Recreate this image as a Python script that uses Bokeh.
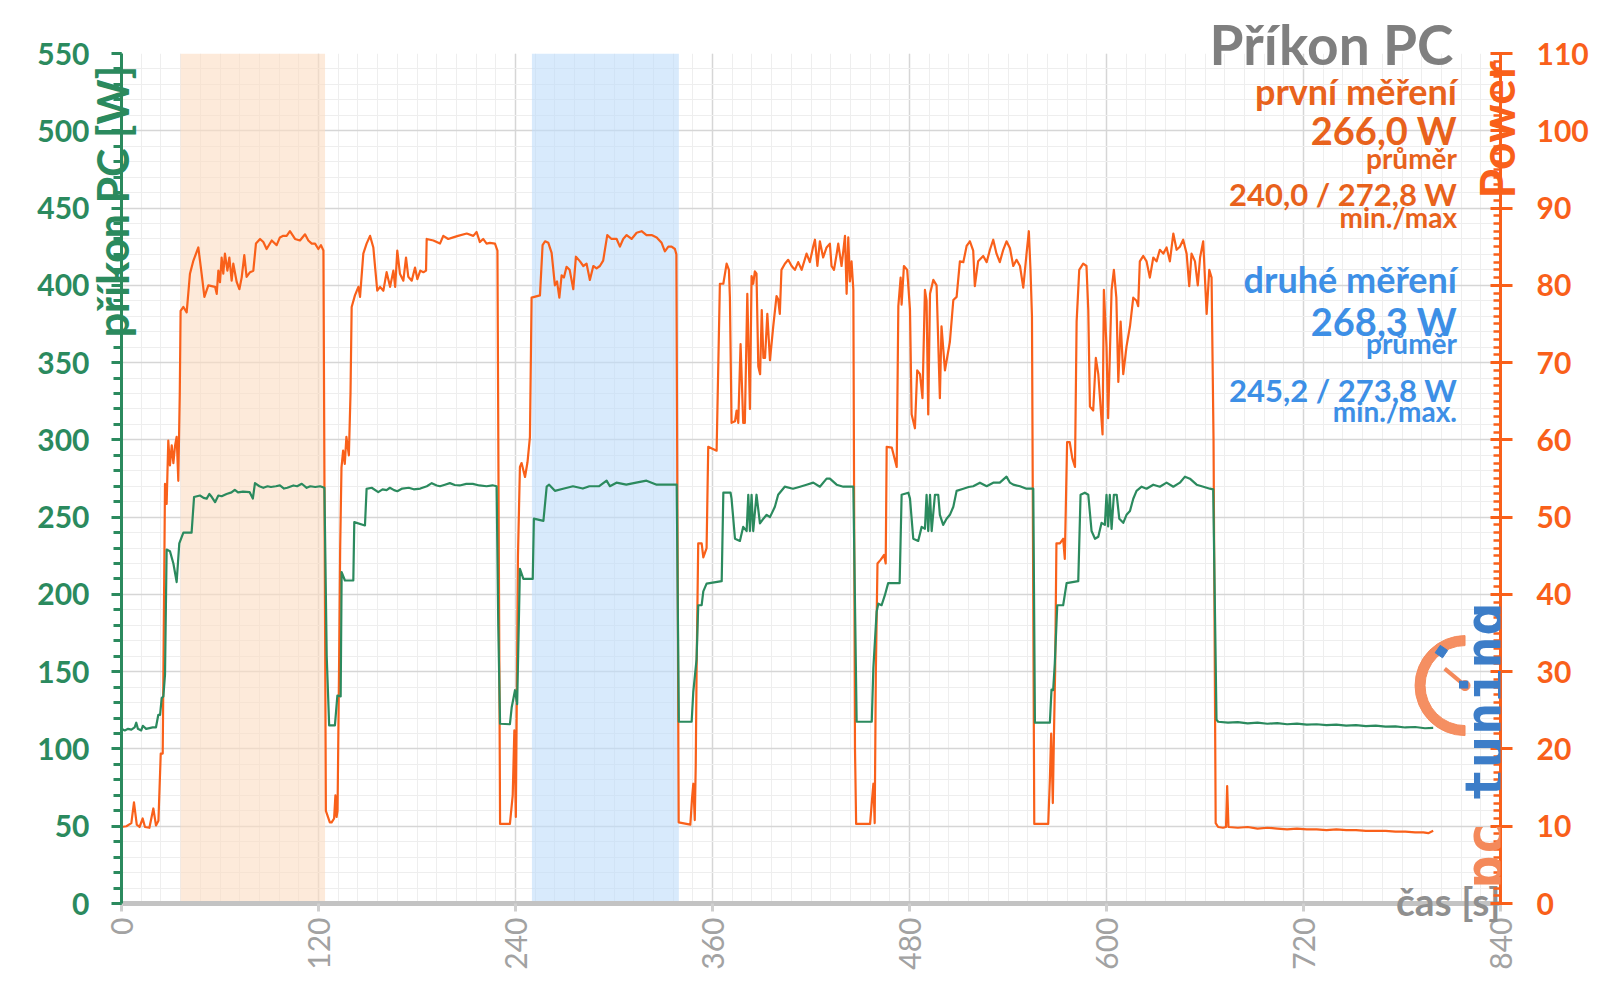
import math
from bokeh.plotting import figure
from bokeh.models import Range1d, LinearAxis, FixedTicker, BoxAnnotation, Label
from bokeh.embed import file_html
from bokeh.resources import INLINE

# ---------------- data ----------------
X_TICKS = [0, 120, 240, 360, 480, 600, 720, 840]
Y_LEFT_TICKS = list(range(0, 551, 50))
Y_RIGHT_TICKS = list(range(0, 111, 10))

BAND_FIRST = (36, 124)     # první měření
BAND_SECOND = (250, 339.5)  # druhé měření

# (time [s], příkon PC [W])
GREEN_PTS = [
    (0, 113), (2, 112), (4, 113), (6, 112.5), (8, 114), (9, 117), (10, 113), (12, 112), (13, 115),
    (15, 113), (17, 113.5), (19, 114), (21, 114), (22.4, 122), (23.5, 122), (24.5, 133), (25.5, 134),
    (26.5, 148), (27.5, 229), (29.5, 228), (31.6, 220), (33.6, 208), (35.2, 233), (37.7, 240),
    (42.7, 240), (44.2, 263), (47.8, 264), (50, 262.5), (51.9, 262), (53.5, 265), (55, 263),
    (57, 259.7), (59, 264), (61, 263.5), (64, 265), (67, 266), (69, 267.7), (71, 266), (74, 266.5),
    (78, 266.2), (80, 262), (81.3, 272), (84, 270), (86.4, 269), (89, 270), (91, 269.5), (94, 270),
    (96.5, 270.5), (99, 268.5), (101, 269), (104.7, 270.5), (107, 270), (109.8, 271.6), (112.8, 269),
    (115, 270), (118, 269.5), (121, 270), (123.6, 269),
    (125, 160), (126.5, 115.2), (130, 115.2), (131.5, 134.6), (133.5, 134), (134.1, 214.4),
    (136.1, 209), (141.2, 209), (141.8, 246.8), (148.3, 244.6), (149.3, 268.3), (152.4, 269),
    (156.4, 266.2), (159, 268), (161.5, 267.5), (163.5, 269), (166, 267.5), (168, 266.8),
    (171, 268.5), (175, 269), (178, 268), (182, 268.5), (186, 270), (189, 272), (192, 270.5),
    (194, 270), (197, 271), (200, 272), (203, 270.8), (206, 270.5), (210, 271.5), (214, 271.5),
    (218, 270.5), (222.4, 270), (226, 270.6), (228.5, 270),
    (229.5, 180), (230.6, 116.3), (236.6, 116), (237.7, 127), (239.7, 138), (241, 129),
    (242.7, 216.6), (244.8, 210), (250.5, 210), (251.2, 249), (257, 247.6), (259, 269.7),
    (260.5, 271), (264, 267), (269, 268.4), (275, 270), (281, 268.5), (285, 270), (291, 270),
    (295.5, 273.6), (297.5, 270), (301.5, 272.3), (307.5, 271), (313.5, 272.3), (319.8, 273.6),
    (326, 271), (334, 271), (338.2, 271),
    (339.5, 117.6), (347.3, 117.6), (348.3, 137), (350.3, 158), (351.3, 193), (353.4, 193),
    (354.4, 202), (356.4, 207), (365.6, 208.6), (366.6, 265.8), (371, 265.8), (371.6, 262),
    (373.7, 236), (376.7, 234.6), (378.7, 243.7), (380.8, 241), (381.8, 264.5), (382.8, 241),
    (383.8, 264.5), (384.8, 241), (386.8, 264.5), (388.9, 246), (391, 249), (393, 251.5),
    (395, 250), (398, 256.7), (400, 264.5), (404, 269.7), (409, 268.4), (413.3, 269.7),
    (417.3, 271), (421.4, 272.3), (425.4, 269.7), (429.5, 274.9), (431.5, 274.9), (435.6, 271),
    (439.7, 269.7), (445.8, 269.7),
    (447.8, 117.6), (457, 117.6), (458, 152.7), (460, 189), (461, 194), (463, 193), (465, 199.5),
    (467, 207.3), (474, 207.3), (475.2, 264.5), (479.3, 265.8), (480.3, 262), (482.3, 236),
    (485.3, 234.6), (487.4, 243.7), (489.4, 242.5), (490.4, 264.5), (491.4, 241), (492.5, 264.5),
    (493.5, 241), (495.5, 264.5), (497.5, 264.5), (498.5, 251.5), (500.5, 245), (502.6, 249),
    (504.6, 251.5), (506.7, 256.7), (508.7, 267), (512.8, 268.4), (516, 269.5), (518.8, 270),
    (522.9, 272.3), (527, 270), (531, 272.3), (535, 272.3), (539.1, 276.2), (541.2, 272.3),
    (543.2, 271), (547.3, 270), (551.3, 268.4), (555.4, 268.4),
    (556.4, 117), (565.5, 117), (566.5, 138.4), (567.5, 138), (568.5, 155.3), (570, 193),
    (573.6, 193), (575.7, 207.3), (582.8, 208.6), (584.2, 264.5), (586.8, 265.8), (588.9, 264.5),
    (590.9, 241), (593, 236), (595, 237.3), (597, 246.3), (599, 245), (600, 264.5), (601, 244),
    (602, 264.5), (603.1, 242.4), (604.5, 264.5), (606.2, 264.5), (607.8, 248.9), (610.2, 246.3),
    (612.2, 251.5), (614.3, 254), (616.3, 261.9), (618.3, 267), (621.4, 269.7), (624.4, 268.4),
    (628.5, 271), (632.5, 269.7), (636.6, 272.3), (640.7, 269.7), (644.7, 272.3), (647.8, 276.2),
    (650.8, 274.9), (654.9, 271), (659, 269.7), (663, 268.4), (665, 268),
    (667, 119), (668, 117.6), (674, 117.0), (680, 117.4), (686, 116.6), (692, 117.0), (698, 116.3),
    (704, 116.7), (710, 116.0), (716, 116.4), (722, 115.7), (728, 116.0), (734, 115.4),
    (740, 115.8), (746, 115.1), (752, 115.4), (758, 114.8), (764, 115.1), (770, 114.4),
    (776, 114.6), (782, 113.9), (788, 114.2), (794, 113.4), (799, 113.6),
]

# (time [s], Power on the right axis)
ORANGE_PTS = [
    (0, 9.9), (3, 10.0), (6, 10.4), (7.6, 13.1), (9.3, 10.2), (11, 9.9), (12.9, 11.0), (14.3, 9.9),
    (17, 9.8), (19.4, 12.3), (21, 10.1), (22.5, 10.7), (23.9, 19.4), (25.1, 19.4), (25.5, 29.3),
    (26.5, 54.3), (27.5, 51.7), (28.5, 59.9), (29.5, 56.7), (30.6, 59.3), (31.6, 57), (32.6, 59.2),
    (33.6, 60.4), (34.6, 54.7), (35.5, 66), (36, 76.7), (37.7, 77.2), (39.7, 76.5), (41.7, 81.5),
    (43.8, 83.2), (46.8, 84.9), (48.8, 81.5), (50.5, 78.5), (52.9, 80), (57, 79.8), (58, 78.9),
    (59, 81.9), (60, 80.4), (61, 83.6), (62, 81.5), (63, 84.1), (64.5, 81.9), (65.7, 83.6),
    (67.1, 80.6), (68.1, 82.8), (70.2, 80.4), (71.8, 79.5), (73.2, 81), (74.8, 83.9), (76.2, 81.1),
    (78.3, 81.7), (80.3, 81.9), (81.9, 85.4), (84.4, 86), (86.4, 85.6), (88.4, 84.7), (91.5, 85.8),
    (94.5, 85.2), (96.5, 86.2), (98.5, 86.4), (100.6, 86.4), (102.6, 87), (105.7, 86),
    (108.7, 85.8), (111.8, 86.6), (113.8, 85.8), (115.9, 85.4), (117.9, 85.4), (119.9, 84.7),
    (121.5, 85.2), (123, 84.5),
    (124.5, 12), (126.9, 10.5), (128, 10.5), (129.5, 11), (130.3, 14), (131, 11.2), (131.6, 12),
    (132.5, 30), (133.2, 46), (134, 56.4), (135, 58.6), (136, 56.9), (137, 60.4), (138.5, 58),
    (139.5, 66), (140.2, 77.2), (142.2, 78.7), (144.3, 79.8), (145.3, 78.5), (147.3, 84.1),
    (149.3, 85.4), (151.4, 86.4), (153.4, 84.9), (154.5, 82.3), (155.8, 79.3), (157.5, 79.8),
    (159.5, 79.3), (161.5, 81.7), (163.6, 79.8), (165.6, 81.9), (166.7, 79.8), (168, 84.5),
    (169.6, 81.5), (171.7, 80.6), (173.3, 83.6), (174.7, 81.1), (176.8, 80.6), (178.8, 82.3),
    (180.2, 80.8), (182, 81.9), (183.9, 81.7), (185.5, 81.9), (185.9, 86), (190, 85.8),
    (194, 85.4), (196, 86.4), (199, 86), (202.1, 86.2), (205, 86.4), (210.3, 86.7), (214.3, 86.4),
    (216.3, 86.9), (218.3, 85.6), (220.3, 86), (222.4, 85.4), (224.4, 85.5), (227.5, 85.4),
    (229, 84.5),
    (230.6, 10.3), (236.6, 10.3), (238.3, 14), (239.3, 22.4), (240.2, 11.2), (241.5, 45),
    (242.7, 56.5), (243.7, 57), (245.8, 55.2), (247.3, 57.1), (248.8, 60.4), (249.8, 78.4),
    (254.9, 78.7), (256.5, 85.2), (258, 85.7), (260, 85.5), (262, 84.2), (264, 80), (265.3, 80.5),
    (266.7, 78.4), (268.1, 81.3), (269.5, 81), (271.1, 82.4), (273, 82), (275.2, 79.5),
    (276.8, 83.7), (279.3, 83.1), (281.3, 82.5), (283.3, 82.8), (285.3, 80.7), (287.4, 82.5),
    (289.4, 82.2), (291.4, 82.5), (293.4, 83.2), (295.9, 86.5), (298.5, 86), (301.6, 86),
    (303.6, 85), (305.6, 86), (307.7, 86.5), (310.7, 86), (313.8, 86.8), (316.8, 87),
    (319.8, 86.5), (322.9, 86.5), (326, 86.2), (329, 85.5), (331, 84.4), (333.1, 85),
    (335.1, 85), (337.1, 84.7), (338, 84),
    (339.4, 10.5), (346.5, 10.2), (347.5, 13.5), (348.3, 15.5), (349.2, 10.8), (349.8, 18),
    (350.3, 30), (351.3, 46.6), (353.4, 46.6), (354.4, 44.8), (356.4, 46), (357.4, 59.1),
    (362.5, 58.6), (364.5, 80.2), (366.6, 80.2), (368.6, 82.8), (370, 82), (370.6, 78.4),
    (371.6, 62.2), (373.7, 62.4), (374.7, 63.8), (375.7, 62.2), (377.1, 72.4), (378.7, 62.2),
    (379.7, 62.2), (381.2, 78.9), (382.8, 64), (383.8, 81.2), (384.8, 80.2), (385.8, 81.8),
    (386.8, 81.5), (387.9, 69.5), (389, 68.5), (390, 76.8), (391, 70.6), (392, 70.6),
    (393.4, 76.3), (395, 70.3), (397, 74.7), (399, 78.6), (400, 78.2), (401, 76.3), (402, 82),
    (404.1, 82.8), (406.1, 83.3), (408.2, 82.5), (410.2, 82), (412.2, 83), (414.3, 82),
    (417.3, 84.1), (419.3, 83), (421.4, 85.1), (422.4, 85.9), (423.9, 82.5), (425.4, 85.7),
    (427.4, 83.6), (429.5, 84.9), (431.5, 85.4), (432.5, 82.5), (434, 82), (435.6, 84),
    (436.6, 85.4), (438.6, 82.5), (439.7, 84.5), (440.7, 86.4), (441.7, 78.9), (442.7, 86.2),
    (443.7, 80.5), (444.7, 83.1), (445.8, 79.4),
    (446.8, 20), (447.5, 10.3), (456, 10.3), (457, 13), (458, 15.5), (458.8, 10.4), (459.5, 30),
    (460.5, 44), (462.5, 44.5), (464.5, 45.1), (465.5, 44), (466.1, 59.1), (469.2, 59),
    (472.2, 56.5), (473.2, 77.3), (474.6, 81), (475.2, 77.5), (476.6, 82.5), (478.6, 82),
    (480.3, 76.8), (481.3, 63.3), (483.3, 61.5), (484.7, 69), (486.4, 68.5), (487.9, 65.4),
    (489.4, 79.4), (490.4, 78), (491.4, 63.3), (492.5, 78.9), (494.5, 80.7), (496.5, 80),
    (498.5, 65.4), (499.5, 74.7), (501.6, 69), (504.6, 72.7), (506.7, 78.1), (508.7, 78.5),
    (510.7, 83.1), (512.8, 83), (514.8, 85.1), (516.8, 85.7), (518.8, 84.5), (519.8, 79.9),
    (521.8, 83.1), (524.9, 83.8), (527, 83), (529, 84.6), (531, 85.9), (533, 84.1), (535, 83),
    (537.1, 84.6), (539.1, 85.7), (541.2, 84.8), (543.2, 82.5), (545.2, 83.3), (547.3, 82.5),
    (549.3, 79.7), (551.3, 84.1), (552.7, 87), (553.7, 82), (554.6, 76),
    (556, 10.3), (564.5, 10.3), (565.5, 16), (566.3, 22), (567.3, 13), (568, 22), (568.7, 30),
    (569.5, 46.6), (571.6, 46.6), (573.6, 47.2), (574.6, 44.6), (576, 59.7), (577.6, 59.7),
    (579.2, 57.6), (580.8, 56.5), (581.8, 75.3), (583.4, 82), (585.8, 82.8), (587.8, 82.5),
    (588.9, 76.8), (589.9, 64.3), (591.9, 63.8), (593.5, 70.6), (595, 68.5), (596.5, 64),
    (597.6, 60.7), (598.4, 79.4), (600, 72.1), (601, 62.8), (603.1, 79.4), (604.5, 82),
    (606, 78.4), (607.2, 67.5), (608.6, 75.3), (610.2, 68.5), (612.2, 72.1), (614.3, 74.7),
    (616.3, 78.4), (618.3, 78), (619.3, 77.3), (620.3, 83.1), (622.4, 83.8), (624.4, 83.1),
    (626.4, 81), (628.5, 83.6), (630.5, 83.1), (632.5, 84.6), (634.6, 84.1), (636.6, 84.9),
    (638.6, 83.1), (640.7, 86.7), (642.7, 84.6), (644.7, 85), (646.7, 85.9), (648.8, 84.1),
    (650.4, 79.9), (651.8, 84.1), (653.9, 83.1), (655.6, 80), (657, 83.6), (658.9, 85.7),
    (661, 76.3), (662.6, 82), (664, 81), (665.2, 60),
    (666.5, 10.4), (668, 9.9), (671, 9.8), (672.8, 9.9), (673.5, 15.2), (674.3, 9.9), (680, 9.8),
    (686, 9.9), (692, 9.7), (698, 9.8), (704, 9.7), (710, 9.6), (716, 9.7), (722, 9.6),
    (728, 9.6), (734, 9.5), (740, 9.6), (746, 9.5), (752, 9.5), (758, 9.4), (764, 9.4),
    (770, 9.4), (776, 9.3), (782, 9.3), (788, 9.2), (793, 9.2), (796, 9.1), (799, 9.4),
]

TITLE = "Příkon PC"
LEFT_TITLE = "příkon PC [W]"
RIGHT_TITLE = "Power"
X_TITLE = "čas [s]"
FIRST_LINES = ["první měření", "266,0 W", "průměr", "240,0 / 272,8 W", "min./max"]
SECOND_LINES = ["druhé měření", "268,3 W", "průměr", "245,2 / 273,8 W", "min./max."]

# ---------------- style ----------------
GREEN = "#2b8a5e"
ORANGE = "#f9601a"
ORANGE_TXT = "#e8621c"
BLUE_TXT = "#3d8fe6"
GRAY_TXT = "#7f7f7f"
FONT = "Lato"
NBSP = "\u00a0"

W, H = 1596, 990
p = figure(width=W, height=H,
           x_range=Range1d(0, 840), y_range=Range1d(0, 550),
           output_backend="svg", toolbar_location=None,
           min_border_left=121, min_border_right=W - 1500, min_border_top=53,
           min_border_bottom=H - 903)
p.extra_y_ranges = {"pwr": Range1d(0, 110)}
p.outline_line_color = None
p.background_fill_color = "white"
p.border_fill_color = "white"

# chart title (top right, reaching slightly into the plot area)
p.title.text = TITLE
p.title.align = "right"
p.title.offset = 47
p.title.standoff = -46
p.title.vertical_align = "bottom"
p.title.text_font = FONT
p.title.text_font_style = "bold"
p.title.text_font_size = "55px"
p.title.text_color = GRAY_TXT

# grid
p.xgrid.ticker = FixedTicker(ticks=X_TICKS, minor_ticks=list(range(0, 841, 12)))
p.ygrid.ticker = FixedTicker(ticks=Y_LEFT_TICKS, minor_ticks=list(range(0, 551, 10)))
for g in (p.xgrid, p.ygrid):
    g.grid_line_color = "#d6d6d6"
    g.grid_line_width = 1.5
    g.minor_grid_line_color = "#eeeeee"
    g.minor_grid_line_width = 1

# bands
p.add_layout(BoxAnnotation(left=BAND_FIRST[0], right=BAND_FIRST[1], fill_color="#fcdcc1",
                           fill_alpha=0.6, line_color=None, level="underlay"))
p.add_layout(BoxAnnotation(left=BAND_SECOND[0], right=BAND_SECOND[1], fill_color="#bedcfa",
                           fill_alpha=0.6, line_color=None, level="underlay"))

# x axis
xa = p.xaxis[0]
xa.ticker = FixedTicker(ticks=X_TICKS, minor_ticks=[])
xa.axis_line_color = "#c3c3c3"
xa.axis_line_width = 5
xa.major_tick_line_color = "#cfcfcf"
xa.major_tick_line_width = 3
xa.major_tick_out = 8
xa.major_tick_in = 0
xa.minor_tick_line_color = None
xa.major_label_orientation = math.pi / 2
xa.major_label_text_font = FONT
xa.major_label_text_font_size = "30px"
xa.major_label_text_color = "#a2a2a2"
xa.major_label_standoff = 6

# left axis
ya = p.yaxis[0]
ya.ticker = FixedTicker(ticks=Y_LEFT_TICKS, minor_ticks=list(range(0, 551, 10)))
ya.axis_line_color = GREEN
ya.axis_line_width = 3
ya.major_tick_line_color = GREEN
ya.major_tick_line_width = 3
ya.major_tick_out = 10
ya.major_tick_in = 0
ya.minor_tick_line_color = GREEN
ya.minor_tick_line_width = 3
ya.minor_tick_out = 8
ya.minor_tick_in = 0
ya.major_label_text_font = FONT
ya.major_label_text_font_style = "bold"
ya.major_label_text_font_size = "30px"
ya.major_label_text_color = GREEN
ya.major_label_standoff = 22

# right axis
ra = LinearAxis(y_range_name="pwr",
                ticker=FixedTicker(ticks=Y_RIGHT_TICKS, minor_ticks=list(range(0, 111, 1))))
ra.axis_line_color = ORANGE
ra.axis_line_width = 3
ra.major_tick_line_color = ORANGE
ra.major_tick_line_width = 3
ra.major_tick_out = 12
ra.major_tick_in = 10
ra.minor_tick_line_color = ORANGE
ra.minor_tick_line_width = 2.5
ra.minor_tick_out = 0
ra.minor_tick_in = 7
ra.major_label_text_font = FONT
ra.major_label_text_font_style = "bold"
ra.major_label_text_font_size = "30px"
ra.major_label_text_color = ORANGE
ra.major_label_standoff = 24
p.add_layout(ra, "right")


# axis titles: labels of tick-less helper axes
def title_axis(side, text, size, color, standoff, align, y_range_name="default",
               orientation=None):
    ax = LinearAxis(ticker=FixedTicker(ticks=[], minor_ticks=[]), y_range_name=y_range_name)
    ax.axis_line_color = None
    ax.major_tick_line_color = None
    ax.minor_tick_line_color = None
    ax.major_tick_out = 0
    ax.minor_tick_out = 0
    ax.major_tick_in = 0
    ax.minor_tick_in = 0
    ax.major_label_standoff = 0
    ax.major_label_text_font_size = "1px"
    ax.axis_label = text
    ax.axis_label_text_font = FONT
    ax.axis_label_text_font_style = "bold"
    ax.axis_label_text_font_size = size
    ax.axis_label_text_color = color
    ax.axis_label_standoff = standoff
    ax.axis_label_align = align
    if orientation is not None:
        ax.axis_label_orientation = orientation
    p.add_layout(ax, side)


# left: centred on the axis, lead-in space pushes the visible words to the top
title_axis("left", NBSP * 53 + LEFT_TITLE, "43px", GREEN, -103, "center")
# right: starts at the middle of the axis, lead-in space lifts the word up
title_axis("right", NBSP * 24 + RIGHT_TITLE, "48px", ORANGE, -95, "center",
           y_range_name="pwr", orientation=math.pi / 2)
# bottom: right-anchored at the end of the time axis
title_axis("below", X_TITLE, "39px", "#8f8f8f", -72, "end", orientation=1e-6)

# series
ot = [a for a, b in ORANGE_PTS]
ov = [b for a, b in ORANGE_PTS]
gt = [a for a, b in GREEN_PTS]
gv = [b for a, b in GREEN_PTS]
p.line(ot, ov, y_range_name="pwr", line_color=ORANGE, line_width=2.2, line_join="round")
p.line(gt, gv, line_color=GREEN, line_width=2.2, line_join="round")


def lab(x, y, text, size, color, align="right", angle=0.0, baseline="alphabetic", font=FONT,
        style="bold", units="data"):
    p.add_layout(Label(x=x, y=y, text=text, text_font=font, text_font_size=size,
                       text_font_style=style, text_color=color, text_align=align,
                       text_baseline=baseline, angle=angle,
                       x_units=units, y_units=units))


# summary texts (right aligned, inside the plot)
RX = 813.5
sizes = ["36px", "38px", "28px", "31px", "28px"]
ys1 = [526.0, 500.2, 482.7, 458.8, 443.9]
ys2 = [404.4, 377.2, 363.0, 332.0, 318.4]
for t, s, yy in zip(FIRST_LINES, sizes, ys1):
    lab(RX, yy, t, s, ORANGE_TXT)
for t, s, yy in zip(SECOND_LINES, sizes, ys2):
    lab(RX, yy, t, s, BLUE_TXT)

# logo (pctuning)
p.annular_wedge(x=818.4, y=141, inner_radius=40, outer_radius=50,
                inner_radius_units="screen", outer_radius_units="screen",
                start_angle=math.pi / 2, end_angle=3 * math.pi / 2,
                color="#f4895a", alpha=0.95)
p.segment(x0=[818.4], y0=[141], x1=[806], y1=[152], line_color="#f4895a", line_width=4)
p.scatter(x=[818.4], y=[141], size=10, color="#f4895a")
p.scatter(x=[804], y=[163], marker="square", size=9, angle=-0.6, color="#3c7dc8")
lab(1484, 801, "tuning", "55px", "#3c7dc8", align="left", angle=math.pi / 2,
    baseline="middle", font="DejaVu Sans Mono", units="canvas")
lab(1484, 888, "pc", "55px", "#f4895a", align="left", angle=math.pi / 2,
    baseline="middle", font="DejaVu Sans Mono", units="canvas")

open("out.html", "w").write(file_html(p, INLINE))
